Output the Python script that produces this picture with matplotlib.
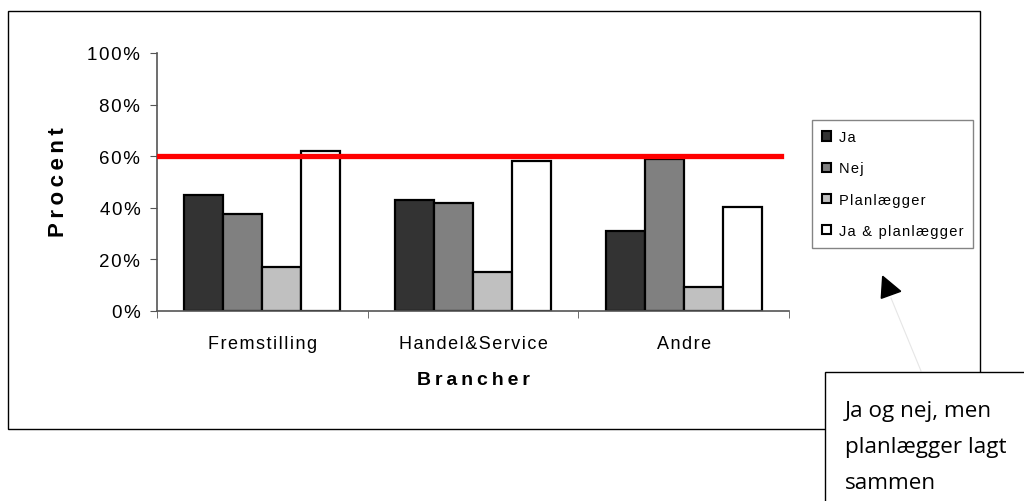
import numpy as np
import matplotlib
matplotlib.use("Agg")
import matplotlib.pyplot as plt
from matplotlib.patches import Rectangle, Polygon
from matplotlib.lines import Line2D

# data
brancher = ["Fremstilling", "Handel&Service", "Andre"]
serier = ["Ja", "Nej", "Planlægger", "Ja & planlægger"]
ja = [45, 43, 31]
nej = [37.5, 42, 59]
planlaegger = [17, 15, 9.3]
ja_og_plan = [62, 58, 40.5]
graense = 60
farver = ["#333333", "#808080", "#c0c0c0", "#ffffff"]
yticks = [0, 20, 40, 60, 80, 100]

plt.rcParams["font.family"] = ["Liberation Sans", "DejaVu Sans"]

W, H = 1024, 502
fig = plt.figure(figsize=(W / 100, H / 100), dpi=100)

def px(x, y):
    # pixel position (top-left origin) to figure fraction
    return x / W, 1 - y / H

def spaced(s, sep="\u200a"):
    # mimic the letter spacing of the original
    return sep.join(s)

# outer chart border
x0, y0 = px(8, 430)
fig.add_artist(Rectangle((x0, y0), 972 / W, 418 / H, transform=fig.transFigure,
                         fill=False, edgecolor="black", linewidth=1.0, zorder=0))

l, b = px(157, 312)
ax = fig.add_axes([l, b, (789 - 157) / W, (312 - 54) / H])

x = np.arange(len(brancher))
bw = 0.185
for i, (navn, vals) in enumerate(zip(serier, [ja, nej, planlaegger, ja_og_plan])):
    ax.bar(x + (i - 1.5) * bw, vals, bw, color=farver[i], edgecolor="black",
           linewidth=1.6, label=navn, zorder=2)

ax.axhline(graense, xmin=0, xmax=(781 - 157) / (789 - 157), color="#ff0000",
           linewidth=3.8, zorder=3)

ax.set_xlim(-0.5, len(brancher) - 0.5)
ax.set_ylim(0, 100)
ax.set_yticks(yticks)
ax.set_yticklabels([spaced(f"{v}%") for v in yticks])
ax.set_xticks(x)
ax.set_xticklabels([spaced(s) for s in brancher])
ax.set_xticks(np.arange(len(brancher) + 1) - 0.5, minor=True)
ax.tick_params(axis="x", which="major", length=0, pad=17, labelsize=13)
ax.tick_params(axis="x", which="minor", length=5, direction="out", color="#555555")
ax.tick_params(axis="y", length=5, direction="out", pad=7, labelsize=13.5, color="#555555")
for s in ["top", "right"]:
    ax.spines[s].set_visible(False)
for s in ["left", "bottom"]:
    ax.spines[s].set_color("#555555")
    ax.spines[s].set_linewidth(1.2)

# axis titles (letter spaced with thin spaces)
tx, ty = px(58, 182)
fig.text(tx, ty, spaced("Procent", "\u2009"), rotation=90, fontsize=16, fontweight="bold",
         ha="center", va="center")
tx, ty = px(473, 381)
fig.text(tx, ty, spaced("Brancher", "\u2009"), fontsize=14, fontweight="bold",
         ha="center", va="center")

# legend
handles = [Rectangle((0, 0), 1, 1, facecolor=c, edgecolor="black", linewidth=1.5) for c in farver]
lx, ly = px(812, 121)
leg = fig.legend(handles, [spaced(s) for s in serier], loc="upper left", bbox_to_anchor=(lx, ly),
                 frameon=True, fancybox=False, edgecolor="#666666", fontsize=10.5,
                 handlelength=0.62, handleheight=0.62, handletextpad=0.5,
                 labelspacing=1.18, borderpad=0.7, borderaxespad=0)
leg.get_frame().set_linewidth(1.0)

# arrow pointing from the note box
p1, p2, p3 = px(882.7, 277.3), px(900.7, 292.3), px(881.3, 299.3)
fig.add_artist(Line2D([px(891, 0)[0], px(921, 0)[0]], [px(0, 299)[1], px(0, 372)[1]],
                      transform=fig.transFigure, color="#e6e6e6", linewidth=0.8))
fig.add_artist(Polygon([p1, p2, p3], closed=True, transform=fig.transFigure,
                       facecolor="black", edgecolor="black"))

# note box
bx, by = px(825, 520)
fig.add_artist(Rectangle((bx, by), 0.3, (520 - 373) / H, transform=fig.transFigure,
                         facecolor="white", edgecolor="black", linewidth=1.0, zorder=5))
for i, linje in enumerate(["Ja og nej, men", "planlægger lagt", "sammen"]):
    tx, ty = px(845, 412 + 36 * i)
    fig.text(tx, ty, linje, fontsize=16.2, family=["Open Sans", "DejaVu Sans"],
             ha="left", va="center", zorder=6)

fig.savefig("out.png", dpi=100)
